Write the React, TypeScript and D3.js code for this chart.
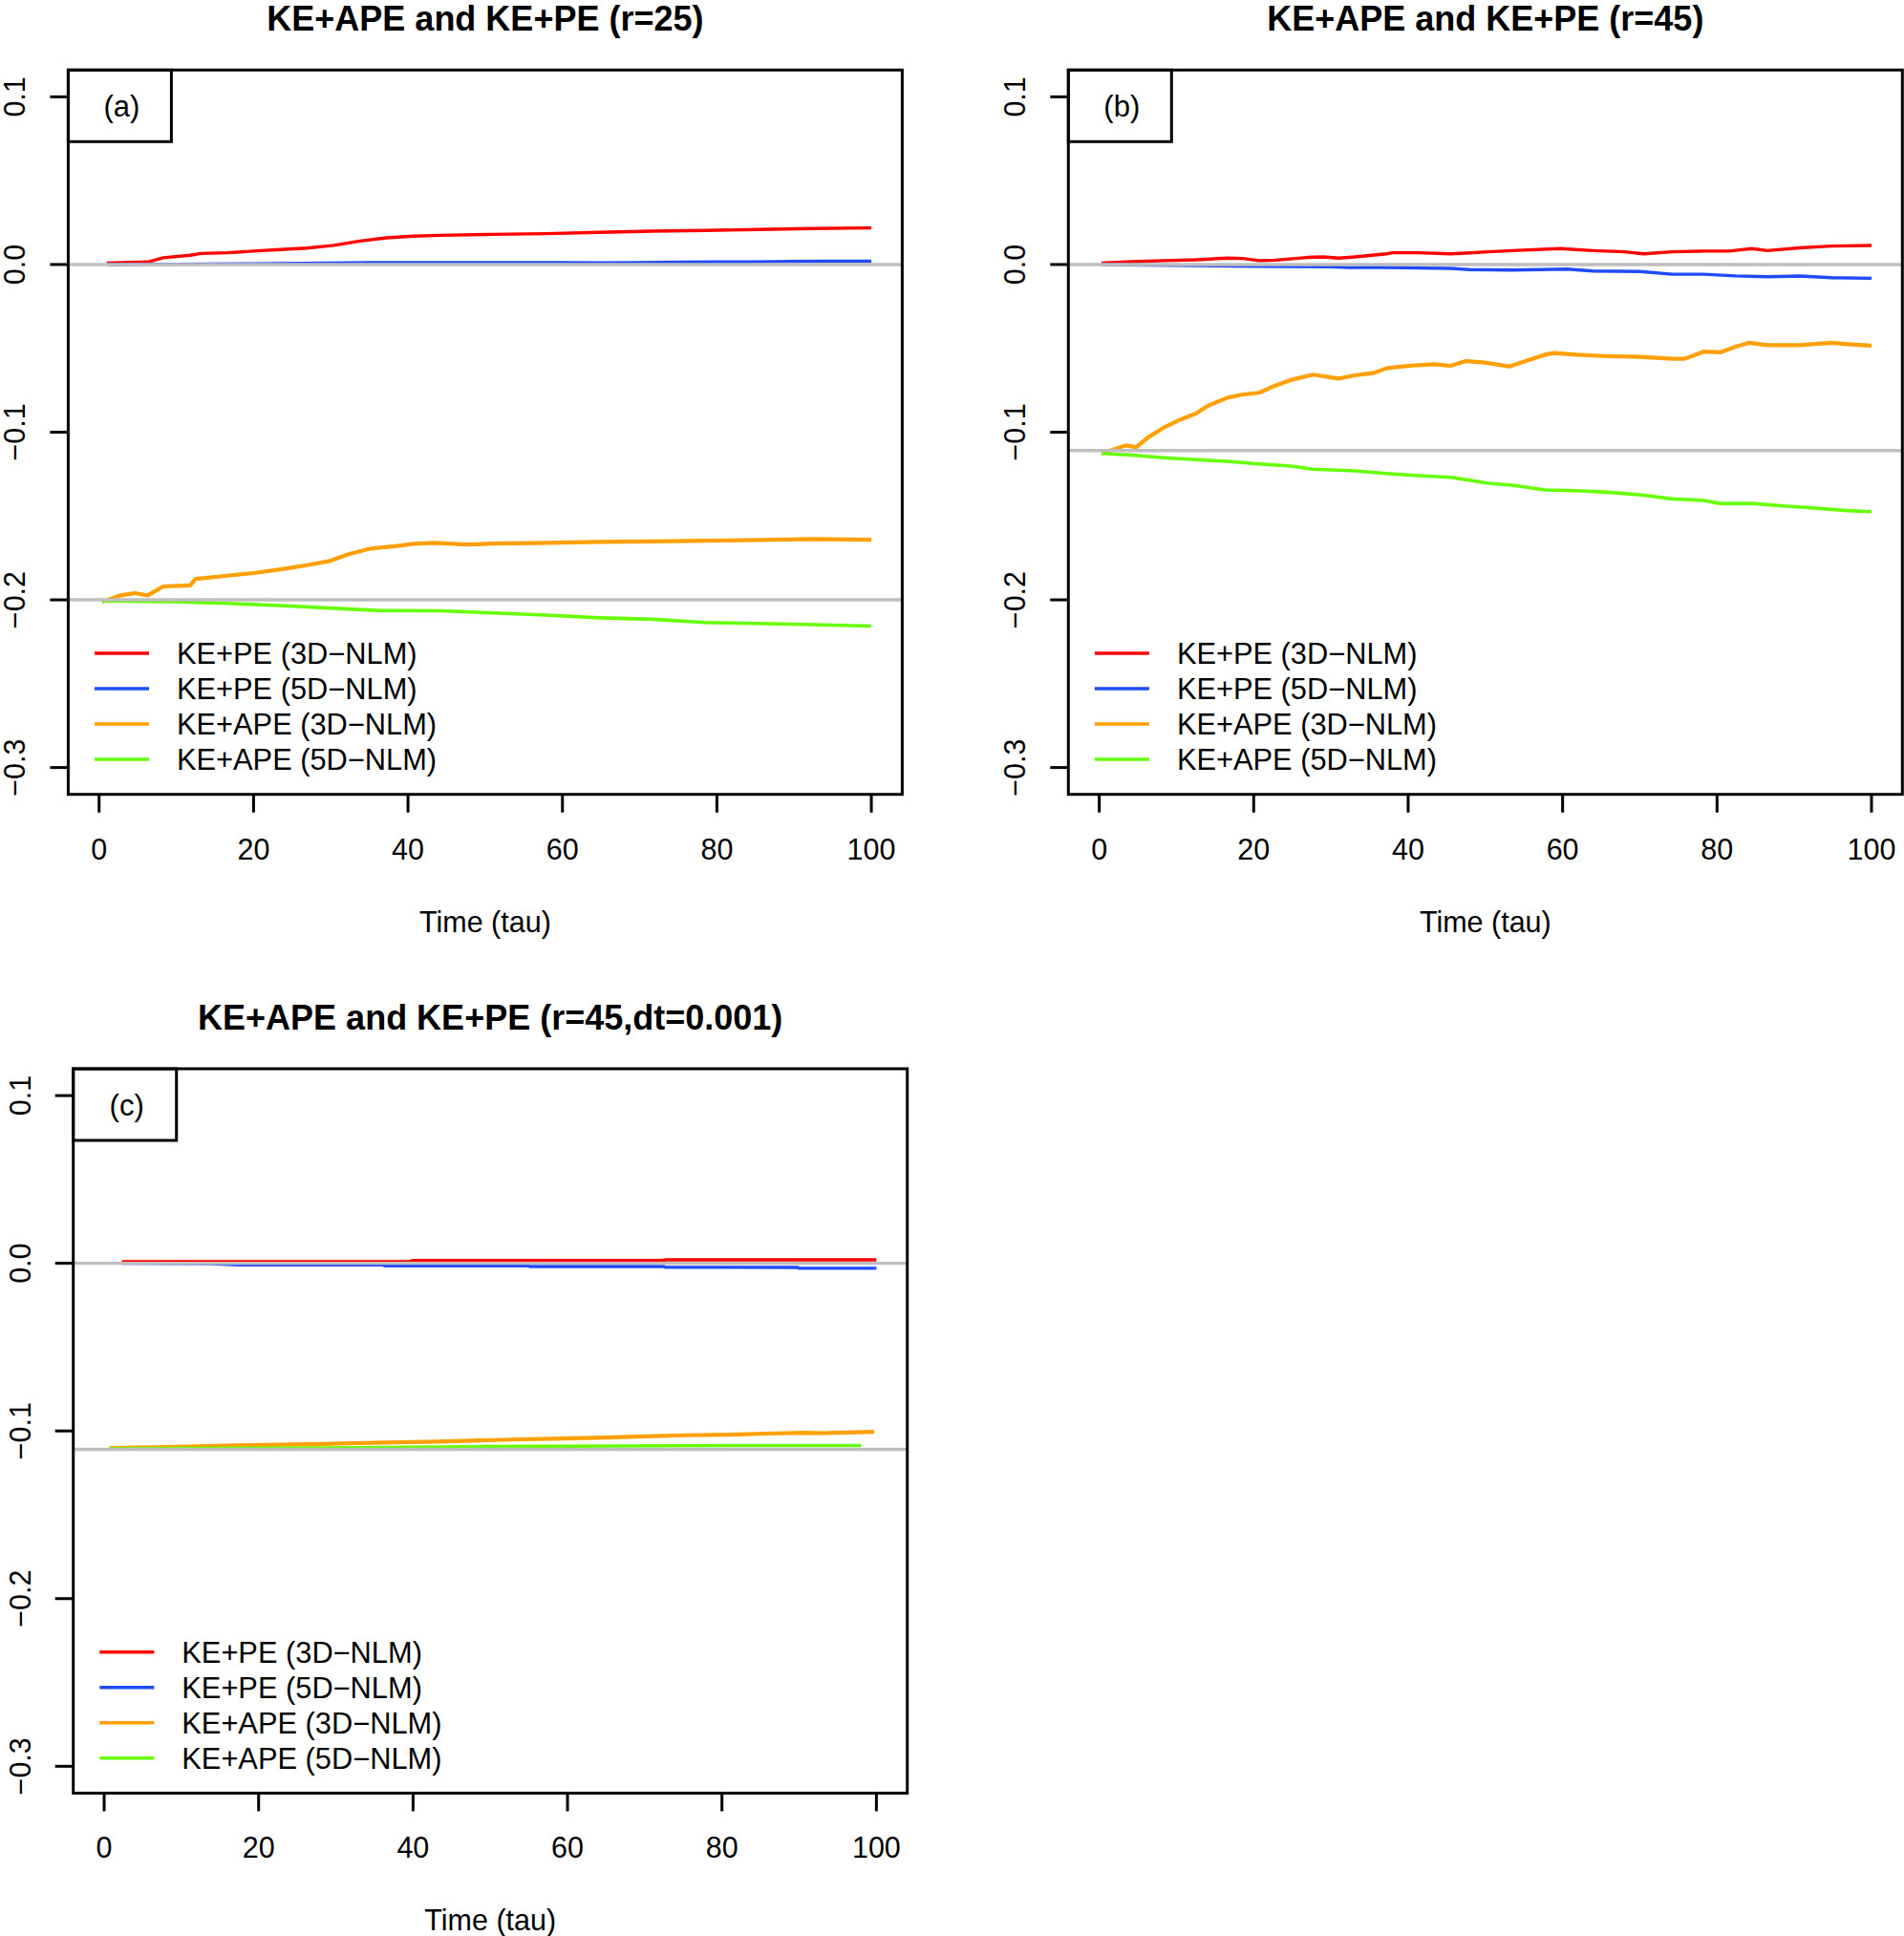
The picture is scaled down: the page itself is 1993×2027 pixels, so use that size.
/**
 * Energy budget comparison panels (KE+APE vs KE+PE)
 *
 * Three base-graphics style panels drawn with D3.js
 */

import React, { useEffect, useRef } from "react";
import * as d3 from "d3";

type Pt = [number, number]; // [tau, value]

// ---- shared axis data ----
const X_TICKS = [0, 20, 40, 60, 80, 100];
const Y_TICKS = [0.1, 0.0, -0.1, -0.2, -0.3];
const SERIES_NAMES = [
  "KE+PE (3D\u2212NLM)",
  "KE+PE (5D\u2212NLM)",
  "KE+APE (3D\u2212NLM)",
  "KE+APE (5D\u2212NLM)",
];
const SERIES_COLORS = ["#ff0000", "#1f4bff", "#ff9f00", "#66ff00"];

// ---- panel (a): r=25 ----
const A_RED: Pt[] = [
  [1.0, 0.0008], [6.3, 0.0015], [8.3, 0.004], [11.8, 0.0055], [13.2, 0.0066],
  [16.6, 0.007], [20, 0.008], [23.5, 0.0089], [26.9, 0.0098], [30.4, 0.0114],
  [33.8, 0.014], [37.2, 0.0159], [40.7, 0.0169], [44.1, 0.0174], [51, 0.018],
  [57.9, 0.0184], [64.8, 0.0192], [71.7, 0.0199], [78.5, 0.0203], [85.4, 0.0209],
  [92.3, 0.0215], [100, 0.0218],
];
const A_BLUE: Pt[] = [
  [1, 0], [10, 0.0002], [20, 0.0004], [30, 0.0008], [35, 0.0011], [40, 0.0012],
  [50, 0.0012], [60, 0.0012], [65, 0.001], [70, 0.0011], [75, 0.0014], [80, 0.0015],
  [85, 0.0016], [90, 0.0018], [95, 0.002], [100, 0.002],
];
const A_ORANGE: Pt[] = [
  [0.4, -0.2011], [2.8, -0.1973], [4.6, -0.196], [6.3, -0.1973], [8.3, -0.192],
  [11.8, -0.1913], [12.5, -0.1875], [16.6, -0.1856], [20, -0.184], [23.5, -0.1818],
  [26.9, -0.1793], [29.7, -0.177], [32.4, -0.1726], [35.2, -0.1694], [38.6, -0.1679],
  [40.7, -0.1666], [43.4, -0.166], [47.6, -0.167], [51, -0.1664], [57.9, -0.166],
  [64.8, -0.1654], [71.7, -0.1651], [78.5, -0.1647], [85.4, -0.1643], [92.3, -0.1637],
  [100, -0.1641],
];
const A_GREEN: Pt[] = [
  [0.4, -0.2007], [9.7, -0.2011], [16.6, -0.2021], [23.5, -0.2034], [30.4, -0.205],
  [35.9, -0.2063], [44.1, -0.2065], [51, -0.2078], [57.9, -0.2091], [64.8, -0.2107],
  [71.7, -0.2116], [78.5, -0.2135], [85.4, -0.2141], [92.3, -0.2148], [100, -0.2156],
];
const A_REF = [0, -0.2];

// ---- panel (b): r=45 ----
const B_RED: Pt[] = [
  [0.3, 0.0009], [4.2, 0.0017], [8.3, 0.0023], [12.5, 0.0028], [16.6, 0.0038],
  [18.6, 0.0036], [20.7, 0.0023], [22.8, 0.0026], [26.9, 0.0042], [29, 0.0045],
  [31, 0.0038], [33.1, 0.0045], [37.2, 0.0064], [38, 0.007], [41.3, 0.007],
  [45.5, 0.0064], [47.5, 0.0068], [50.4, 0.0076], [53.5, 0.0083], [59.7, 0.0095],
  [63.9, 0.0083], [68, 0.0076], [70.5, 0.0064], [74.2, 0.0076], [78.3, 0.008],
  [81.6, 0.008], [84.5, 0.0095], [86.5, 0.0083], [90.7, 0.0099], [94.8, 0.011],
  [100, 0.0114],
];
const B_BLUE: Pt[] = [
  [0.3, 0], [10, -0.0005], [20, -0.001], [30, -0.0013], [32.3, -0.0017], [37.2, -0.0017],
  [41.3, -0.0021], [45.5, -0.0023], [47.9, -0.003], [53.5, -0.0033], [60.6, -0.0027],
  [63.9, -0.0039], [70, -0.0042], [74.2, -0.0058], [78.3, -0.0058], [82.4, -0.0068],
  [86.5, -0.0073], [90.7, -0.0069], [94.8, -0.0079], [100, -0.0082],
];
const B_ORANGE: Pt[] = [
  [0.3, -0.1127], [3.4, -0.1079], [4.8, -0.1089], [6.3, -0.1032], [8.3, -0.0974],
  [10.4, -0.0927], [12.5, -0.0889], [14.1, -0.0842], [16.6, -0.0794], [18.6, -0.0775],
  [20.7, -0.0765], [22.8, -0.0722], [24.8, -0.0689], [27.7, -0.0657], [31, -0.068],
  [33.1, -0.0661], [35.6, -0.0646], [37.2, -0.0619], [39.3, -0.0608], [41.3, -0.06],
  [43.4, -0.0595], [45.5, -0.0604], [47.5, -0.0576], [49.6, -0.0583], [53.1, -0.0608],
  [55.2, -0.0576], [57.7, -0.0538], [58.9, -0.0528], [61.8, -0.0538], [65.9, -0.0547],
  [70, -0.0551], [74.2, -0.0562], [75.8, -0.0562], [78.3, -0.0519], [80.4, -0.0524],
  [82.4, -0.049], [84.1, -0.0467], [86.5, -0.0481], [90.7, -0.0481], [94.8, -0.0467],
  [96.9, -0.0475], [100, -0.0484],
];
const B_GREEN: Pt[] = [
  [0.3, -0.1127], [4.2, -0.1137], [8.3, -0.1152], [12.5, -0.1164], [16.6, -0.1174],
  [20.7, -0.1189], [24.8, -0.1202], [27.7, -0.1221], [33.1, -0.1231], [37.2, -0.1246],
  [41.3, -0.1259], [45.5, -0.1269], [50.4, -0.1305], [53.5, -0.1316], [57.7, -0.1345],
  [61.8, -0.1349], [65.9, -0.1358], [70, -0.1373], [74.2, -0.1398], [78.3, -0.1407],
  [80.4, -0.1425], [84.5, -0.1425], [88.6, -0.144], [92.7, -0.1453], [96.9, -0.1468],
  [100, -0.1474],
];
const B_REF = [0, -0.111];

// ---- panel (c): r=45, dt=0.001 ----
const C_RED: Pt[] = [
  [2.3, 0.0009], [39.5, 0.0009], [40, 0.0017], [72.3, 0.0017], [72.8, 0.0021], [100, 0.0021],
];
const C_BLUE: Pt[] = [
  [2.3, 0], [14, -0.0003], [17.4, -0.0009], [36, -0.0009], [36.3, -0.0015], [55, -0.0015],
  [55.1, -0.0019], [72.5, -0.0019], [72.6, -0.0023], [89.8, -0.0025], [90, -0.003], [100, -0.003],
];
const C_ORANGE: Pt[] = [
  [0.7, -0.1102], [8, -0.1096], [13.5, -0.109], [18.7, -0.1085], [27, -0.1079],
  [32.5, -0.1073], [38, -0.1068], [43.2, -0.1064], [47.6, -0.1058], [53.8, -0.105],
  [59.4, -0.1045], [64.9, -0.1039], [70, -0.1032], [75.2, -0.1026], [80.7, -0.1022],
  [85.6, -0.1016], [90.7, -0.1011], [93.2, -0.1013], [94.5, -0.1011], [99.7, -0.1005],
];
const C_GREEN: Pt[] = [
  [0.7, -0.1106], [27.6, -0.1102], [46.9, -0.1094], [80.7, -0.1087], [98, -0.1087],
];
const C_REF = [0, -0.111];

interface PanelSpec {
  left: number;
  top: number;
  title: string;
  tag: string;
  series: Pt[][];
  refs: number[];
}

const PANELS: PanelSpec[] = [
  { left: 71.4, top: 73.3, title: "KE+APE and KE+PE (r=25)", tag: "(a)",
    series: [A_RED, A_BLUE, A_ORANGE, A_GREEN], refs: A_REF },
  { left: 1118.3, top: 73.3, title: "KE+APE and KE+PE (r=45)", tag: "(b)",
    series: [B_RED, B_BLUE, B_ORANGE, B_GREEN], refs: B_REF },
  { left: 76.7, top: 1119, title: "KE+APE and KE+PE (r=45,dt=0.001)", tag: "(c)",
    series: [C_RED, C_BLUE, C_ORANGE, C_GREEN], refs: C_REF },
];

const W = 1993;
const H = 2027;
const PW = 873; // plot box width
const PH = 758.4; // plot box height
const FONT = "'Liberation Sans', Arial, Helvetica, sans-serif";
const LINE_W = [3.4, 3.4, 4.2, 3.6];

const App: React.FC = () => {
  const svgRef = useRef<SVGSVGElement>(null);

  useEffect(() => {
    if (!svgRef.current) return;
    const svg = d3.select(svgRef.current);
    svg.selectAll("*").remove();

    svg.append("rect").attr("width", W).attr("height", H).attr("fill", "#fff");

    PANELS.forEach((p) => {
      // R style 4% axis extension
      const x = d3.scaleLinear().domain([-4, 104]).range([0, PW]);
      const y = d3.scaleLinear().domain([-0.316, 0.116]).range([PH, 0]);

      const g = svg.append("g").attr("transform", `translate(${p.left},${p.top})`);

      // Title
      g.append("text")
        .attr("x", PW / 2)
        .attr("y", -41)
        .attr("text-anchor", "middle")
        .attr("font-family", FONT)
        .attr("font-weight", "bold")
        .attr("font-size", 36)
        .text(p.title);

      // Data lines
      const line = d3
        .line<Pt>()
        .x((d) => x(d[0]))
        .y((d) => y(d[1]));

      p.series.forEach((s, i) => {
        g.append("path")
          .datum(s)
          .attr("d", line)
          .attr("fill", "none")
          .attr("stroke", SERIES_COLORS[i])
          .attr("stroke-width", LINE_W[i])
          .attr("stroke-linejoin", "round");
      });

      // Reference lines (drawn on top, like abline)
      p.refs.forEach((r) => {
        g.append("line")
          .attr("x1", 0)
          .attr("x2", PW)
          .attr("y1", y(r))
          .attr("y2", y(r))
          .attr("stroke", "#bebebe")
          .attr("stroke-width", 3.4);
      });

      // Legend (no box)
      SERIES_NAMES.forEach((name, i) => {
        const ly = 610.7 + i * 37;
        g.append("line")
          .attr("x1", 27.6)
          .attr("x2", 84.6)
          .attr("y1", ly)
          .attr("y2", ly)
          .attr("stroke", SERIES_COLORS[i])
          .attr("stroke-width", 3.4);
        g.append("text")
          .attr("x", 113.6)
          .attr("y", ly + 10.8)
          .attr("font-family", FONT)
          .attr("font-size", 30.8)
          .text(name);
      });

      // Panel tag box
      g.append("rect")
        .attr("x", 0)
        .attr("y", 0)
        .attr("width", 108)
        .attr("height", 75)
        .attr("fill", "none")
        .attr("stroke", "#000")
        .attr("stroke-width", 3);
      g.append("text")
        .attr("x", 56)
        .attr("y", 49)
        .attr("text-anchor", "middle")
        .attr("font-family", FONT)
        .attr("font-size", 31)
        .text(p.tag);

      // Plot box
      g.append("rect")
        .attr("width", PW)
        .attr("height", PH)
        .attr("fill", "none")
        .attr("stroke", "#000")
        .attr("stroke-width", 3);

      // X axis ticks + labels
      X_TICKS.forEach((t) => {
        g.append("line")
          .attr("x1", x(t))
          .attr("x2", x(t))
          .attr("y1", PH)
          .attr("y2", PH + 19)
          .attr("stroke", "#000")
          .attr("stroke-width", 3);
        g.append("text")
          .attr("x", x(t))
          .attr("y", PH + 68)
          .attr("text-anchor", "middle")
          .attr("font-family", FONT)
          .attr("font-size", 30.5)
          .text(String(t));
      });

      // Y axis ticks + rotated labels
      Y_TICKS.forEach((v) => {
        g.append("line")
          .attr("x1", -19)
          .attr("x2", 0)
          .attr("y1", y(v))
          .attr("y2", y(v))
          .attr("stroke", "#000")
          .attr("stroke-width", 3);
        g.append("text")
          .attr("transform", `translate(-45,${y(v)}) rotate(-90)`)
          .attr("text-anchor", "middle")
          .attr("font-family", FONT)
          .attr("font-size", 30.5)
          .text(v.toFixed(1).replace("-", "\u2212"));
      });

      // X axis title
      g.append("text")
        .attr("x", PW / 2)
        .attr("y", PH + 144)
        .attr("text-anchor", "middle")
        .attr("font-family", FONT)
        .attr("font-size", 30.5)
        .text("Time (tau)");
    });
  }, []);

  return (
    <svg
      ref={svgRef}
      width={W}
      height={H}
      style={{ position: "absolute", left: 0, top: 0, display: "block" }}
    />
  );
};

export default App;
